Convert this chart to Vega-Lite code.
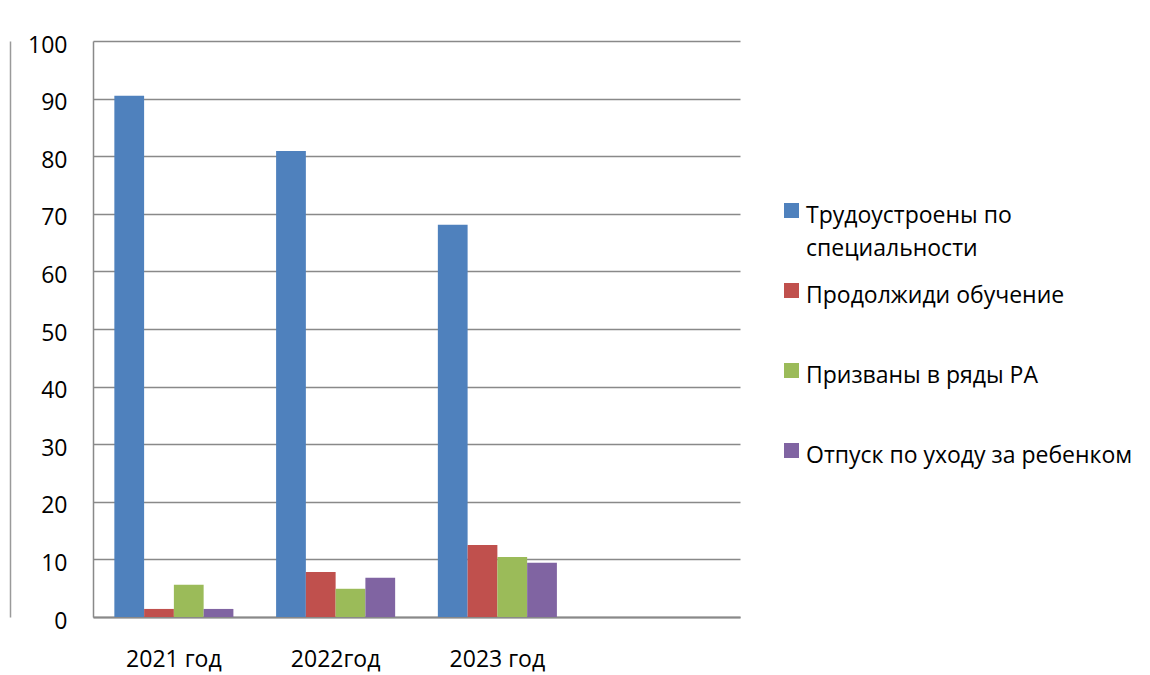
{
  "$schema": "https://vega.github.io/schema/vega-lite/v6.json",
  "width": 647,
  "height": 576,
  "autosize": "none",
  "padding": {"left": 93, "top": 41, "right": 410, "bottom": 58},
  "background": "white",
  "data": {
    "values": [
      {"year": "2021 год", "series": "Трудоустроены по специальности", "value": 90.5},
      {"year": "2021 год", "series": "Продолжиди обучение", "value": 1.4},
      {"year": "2021 год", "series": "Призваны в ряды РА", "value": 5.6},
      {"year": "2021 год", "series": "Отпуск по уходу за ребенком", "value": 1.4},
      {"year": "2022год", "series": "Трудоустроены по специальности", "value": 80.9},
      {"year": "2022год", "series": "Продолжиди обучение", "value": 7.8},
      {"year": "2022год", "series": "Призваны в ряды РА", "value": 4.9},
      {"year": "2022год", "series": "Отпуск по уходу за ребенком", "value": 6.8},
      {"year": "2023 год", "series": "Трудоустроены по специальности", "value": 68.1},
      {"year": "2023 год", "series": "Продолжиди обучение", "value": 12.5},
      {"year": "2023 год", "series": "Призваны в ряды РА", "value": 10.4},
      {"year": "2023 год", "series": "Отпуск по уходу за ребенком", "value": 9.4}
    ]
  },
  "resolve": {"axis": {"y": "independent"}},
  "layer": [
    {
      "mark": {"type": "bar"},
      "encoding": {
        "x": {
          "field": "year",
          "type": "nominal",
          "title": null,
          "sort": null,
          "scale": {"domain": ["2021 год", "2022год", "2023 год", ""], "paddingInner": 0.264, "paddingOuter": 0.132},
          "axis": {
            "labelAngle": 0,
            "ticks": false,
            "tickSize": 0,
            "labelPadding": 31,
            "domainColor": "#898989",
            "domainWidth": 2,
            "grid": false,
            "labelFont": "Open Sans",
            "labelFontSize": 23,
            "labelColor": "#000000"
          }
        },
        "xOffset": {
          "field": "series",
          "type": "nominal",
          "sort": null,
          "scale": {
            "domain": ["Трудоустроены по специальности", "Продолжиди обучение", "Призваны в ряды РА", "Отпуск по уходу за ребенком"],
            "paddingInner": 0,
            "paddingOuter": 0
          }
        },
        "y": {
          "field": "value",
          "type": "quantitative",
          "title": null,
          "scale": {"domain": [0, 100], "nice": false},
          "axis": {
            "orient": "left",
            "values": [0, 10, 20, 30, 40, 50, 60, 70, 80, 90, 100],
            "ticks": false,
            "tickSize": 0,
            "labelPadding": 26,
            "labelOffset": 4,
            "domainColor": "#898989",
            "domainWidth": 1.5,
            "grid": true,
            "gridColor": "#898989",
            "gridWidth": 1.3,
            "labelFont": "Open Sans",
            "labelFontSize": 23,
            "labelColor": "#000000"
          }
        },
        "color": {
          "field": "series",
          "type": "nominal",
          "sort": null,
          "scale": {
            "domain": ["Трудоустроены по специальности", "Продолжиди обучение", "Призваны в ряды РА", "Отпуск по уходу за ребенком"],
            "range": ["#4F81BD", "#C0504D", "#9BBB59", "#8064A2"]
          },
          "legend": {
            "title": null,
            "orient": "none",
            "legendX": 687,
            "legendY": 152,
            "symbolType": "M-1,-0.2H1V1.8H-1Z",
            "symbolSize": 225,
            "symbolStrokeWidth": 0,
            "symbolOpacity": 1,
            "labelFont": "Open Sans",
            "labelFontSize": 23,
            "labelColor": "#000000",
            "labelBaseline": "top",
            "labelOffset": 3,
            "labelLimit": 400,
            "gridAlign": "all",
            "rowPadding": 12,
            "padding": 0,
            "labelExpr": "datum.label == 'Трудоустроены по специальности' ? ['Трудоустроены по', 'специальности'] : datum.label"
          }
        }
      }
    },
    {
      "mark": {"type": "bar", "opacity": 0},
      "encoding": {
        "x": {"field": "year", "type": "nominal", "sort": null, "title": null},
        "xOffset": {"field": "series", "type": "nominal", "sort": null},
        "y": {
          "field": "value",
          "type": "quantitative",
          "title": null,
          "axis": {
            "orient": "left",
            "offset": 83,
            "labels": false,
            "ticks": false,
            "grid": false,
            "domain": true,
            "domainColor": "#9a9a9a",
            "domainWidth": 1.5
          }
        }
      }
    }
  ],
  "config": {
    "view": {"stroke": null},
    "style": {"guide-label": {"lineHeight": 33}}
  }
}
